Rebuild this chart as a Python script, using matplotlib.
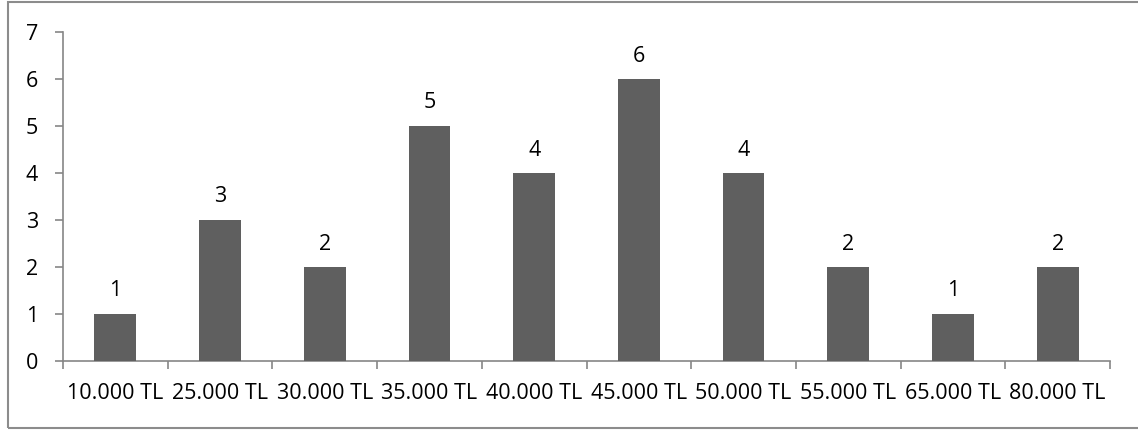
import matplotlib
matplotlib.use('Agg')
import matplotlib.pyplot as plt
from matplotlib.patches import Rectangle
import numpy as np

plt.rcParams['font.family'] = ['Open Sans', 'DejaVu Sans']

categories = ['10.000 TL', '25.000 TL', '30.000 TL', '35.000 TL', '40.000 TL',
              '45.000 TL', '50.000 TL', '55.000 TL', '65.000 TL', '80.000 TL']
counts = [1, 3, 2, 5, 4, 6, 4, 2, 1, 2]

bar_color = '#5f5f5f'
axis_color = '#868686'
fs = 15.5

fig = plt.figure(figsize=(11.38, 4.30), dpi=100)
ax = fig.add_axes([63 / 1138, 1 - 361 / 430, 1047 / 1138, 329 / 430])

x = np.arange(len(categories))
bars = ax.bar(x, counts, width=0.40, color=bar_color, zorder=3)

# value labels over each bar
for xi, v in zip(x, counts):
    ax.annotate(str(v), (xi, v), xytext=(0, 9), textcoords='offset points',
                ha='center', va='bottom', fontsize=fs, color='black')

ax.set_xlim(-0.5, len(categories) - 0.5)
ax.set_ylim(0, 7)
ax.set_yticks(range(0, 8))

ax.set_xticks(x)
ax.set_xticklabels(categories)
ax.set_xticks(np.arange(-0.5, len(categories)), minor=True)
ax.tick_params(axis='x', which='major', length=0, pad=16, labelsize=fs)
ax.tick_params(axis='x', which='minor', length=6, width=1.2, color=axis_color)
ax.tick_params(axis='y', length=6, width=1.2, color=axis_color, pad=12, labelsize=fs)

for side in ['top', 'right']:
    ax.spines[side].set_visible(False)
for side in ['left', 'bottom']:
    ax.spines[side].set_color(axis_color)
    ax.spines[side].set_linewidth(1.2)

# chart frame
fig.patches.append(Rectangle((8 / 1138, 2 / 430), 1.2, 426 / 430,
                             transform=fig.transFigure, fill=False,
                             edgecolor='#8c8c8c', linewidth=1.5))

fig.savefig('out.png', dpi=100)
